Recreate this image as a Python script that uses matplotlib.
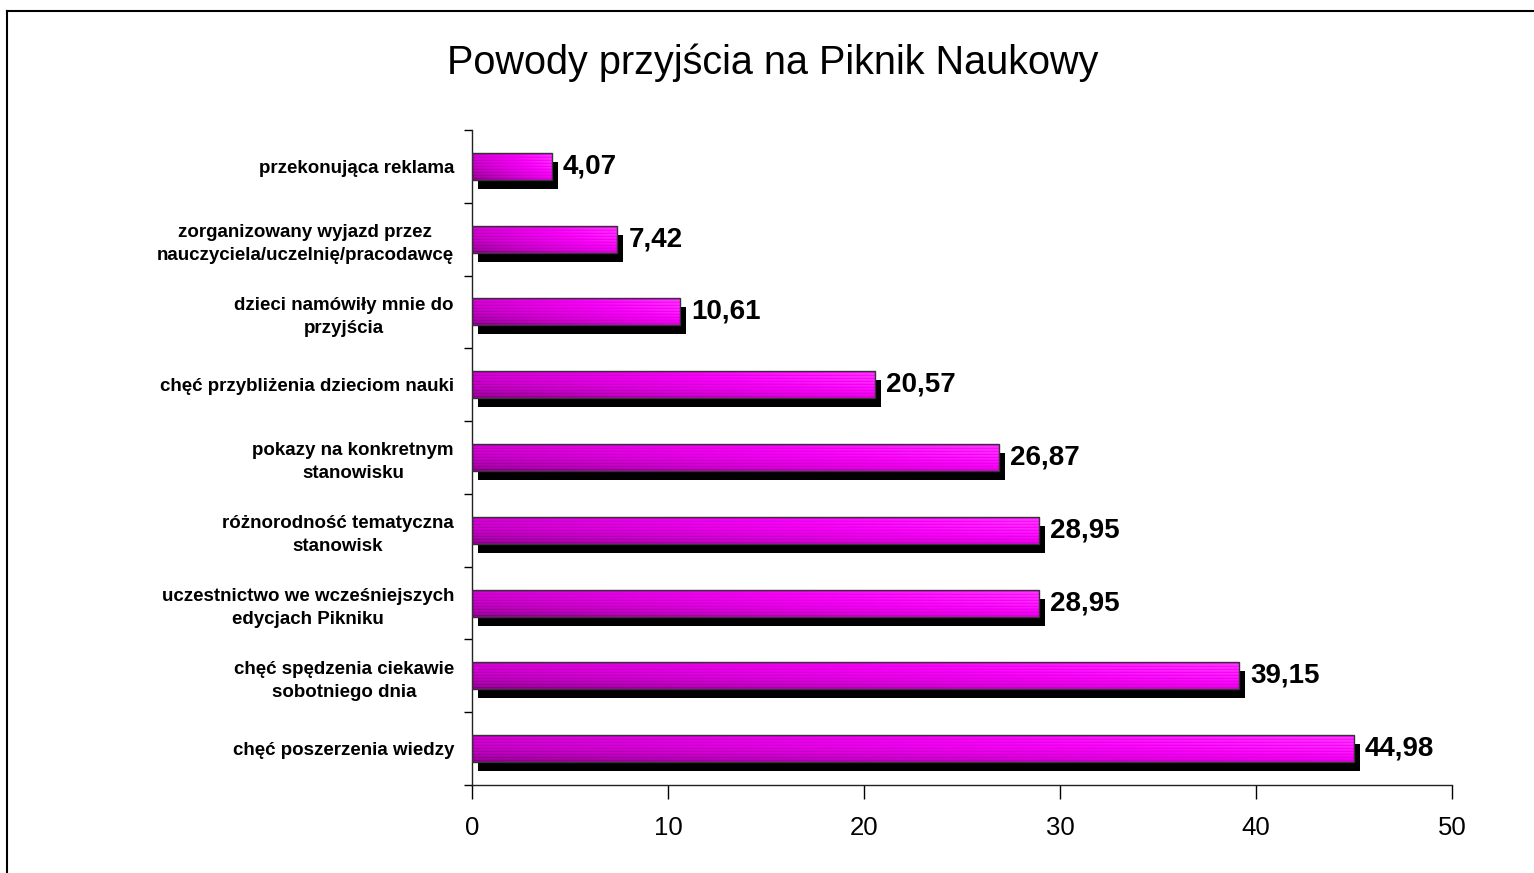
import numpy as np
import matplotlib
matplotlib.use("Agg")
import matplotlib.pyplot as plt
from matplotlib.transforms import ScaledTranslation
from matplotlib.colors import LinearSegmentedColormap

plt.rcParams['font.family'] = ['Liberation Sans', 'DejaVu Sans']

title = "Powody przyjścia na Piknik Naukowy"
categories = [
    "przekonująca reklama",
    "zorganizowany wyjazd przez\nnauczyciela/uczelnię/pracodawcę",
    "dzieci namówiły mnie do\nprzyjścia",
    "chęć przybliżenia dzieciom nauki",
    "pokazy na konkretnym\nstanowisku",
    "różnorodność tematyczna\nstanowisk",
    "uczestnictwo we wcześniejszych\nedycjach Pikniku",
    "chęć spędzenia ciekawie\nsobotniego dnia",
    "chęć poszerzenia wiedzy",
]
values = [4.07, 7.42, 10.61, 20.57, 26.87, 28.95, 28.95, 39.15, 44.98]
value_labels = ["4,07", "7,42", "10,61", "20,57", "26,87", "28,95", "28,95", "39,15", "44,98"]
xticks = [0, 10, 20, 30, 40, 50]

fig = plt.figure(figsize=(15.34, 8.73), dpi=100)
ax = fig.add_axes([0.3077, 0.1008, 0.6388, 0.7503])

n = len(categories)
ypos = np.arange(n)[::-1]  # top category at top
bar_h = 0.37

# gradient image (left purple -> right bright magenta, darker toward bottom, fine stripes)
ny, nx = 27, 200
yy = np.linspace(0, 1, ny)[:, None]   # 0 = top, 1 = bottom
xx = np.linspace(0, 1, nx)[None, :]
t = 0.5 + 0.42 * xx - 0.28 * yy ** 2
stripes = ((np.arange(ny) % 3) == 1)[:, None] * -0.10 + ((np.arange(ny) % 3) == 2)[:, None] * 0.04
t = np.clip(t + stripes, 0, 1)
cmap = LinearSegmentedColormap.from_list("mag", ["#600060", "#9c009c", "#d000d0", "#f800f8", "#ff40ff"])

shadow_tr = ax.transData + ScaledTranslation(6 / 100, -9 / 100, fig.dpi_scale_trans)

for y, v, lab in zip(ypos, values, value_labels):
    ax.barh(y, v, height=bar_h, color="black", transform=shadow_tr, zorder=1)
    ax.imshow(t, cmap=cmap, vmin=0, vmax=1, aspect="auto",
              extent=(0, v, y - bar_h / 2, y + bar_h / 2), interpolation="nearest", zorder=2)
    ax.barh(y, v, height=bar_h, facecolor="none", edgecolor="#333333", linewidth=1.0, zorder=3)
    ax.annotate(lab, xy=(v, y), xytext=(8, 0), textcoords="offset points",
                ha="left", va="center", fontsize=20, fontweight="bold", color="black", zorder=4)

ax.set_xlim(0, 50)
ax.set_ylim(-0.5, n - 0.5)
ax.set_xticks(xticks)
ax.set_xticklabels([str(x) for x in xticks], fontsize=18.5)
ax.tick_params(axis="x", length=10, width=1, pad=12, direction="out")

ax.set_yticks(ypos)
ax.set_yticklabels(categories, fontsize=13.5, fontweight="bold", multialignment="center",
                   linespacing=1.45)
ax.tick_params(axis="y", which="major", length=0, pad=13)
ax.set_yticks(np.arange(n + 1) - 0.5, minor=True)
ax.tick_params(axis="y", which="minor", length=6, width=1, direction="out")

for s in ["top", "right"]:
    ax.spines[s].set_visible(False)
for s in ["left", "bottom"]:
    ax.spines[s].set_color("#222222")
    ax.spines[s].set_linewidth(1.0)

fig.text(0.5035, 1 - 63 / 873, title, ha="center", va="center", fontsize=28.5)

# outer frame (left and top edges visible)
fig.add_artist(plt.Line2D([7 / 1534, 7 / 1534], [0, 1 - 11 / 873], transform=fig.transFigure, color="black", lw=1.5))
fig.add_artist(plt.Line2D([7 / 1534, 1], [1 - 11 / 873, 1 - 11 / 873], transform=fig.transFigure, color="black", lw=1.5))

fig.savefig("out.png", dpi=100)
